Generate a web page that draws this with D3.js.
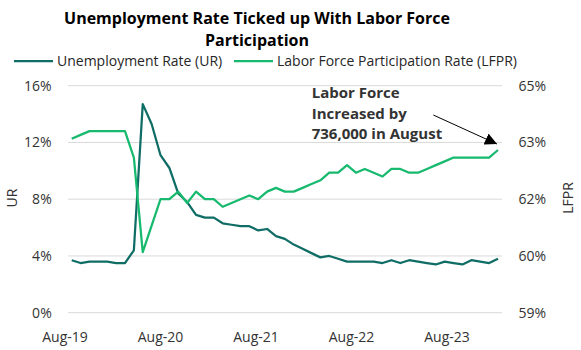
<!DOCTYPE html>
<html>
<head>
<meta charset="utf-8">
<script src="https://cdn.jsdelivr.net/npm/d3@7"></script>
<style>
  body { margin: 0; background: #fff; }
  svg { display: block; font-family: "Open Sans", sans-serif; }
</style>
</head>
<body>
<div id="chart"></div>
<script>
// Monthly data, Aug-19 .. Aug-23
const months = d3.timeMonths(new Date(2019, 7, 1), new Date(2023, 8, 1));

const unemploymentRate = [
    3.7, 3.5, 3.6, 3.6, 3.6, 3.5, 3.5, 4.4, 14.7, 13.3, 11.1, 10.2,
    8.4, 7.8, 6.9, 6.7, 6.7, 6.3, 6.2, 6.1, 6.1, 5.8, 5.9, 5.4,
    5.2, 4.8, 4.5, 4.2, 3.9, 4.0, 3.8, 3.6, 3.6, 3.6, 3.6, 3.5,
    3.7, 3.5, 3.7, 3.6, 3.5, 3.4, 3.6, 3.5, 3.4, 3.7, 3.6, 3.5,
    3.8
];

const participationRate = [
    63.1, 63.2, 63.3, 63.3, 63.3, 63.3, 63.3, 62.6, 60.1, 60.8, 61.5, 61.5,
    61.7, 61.4, 61.7, 61.5, 61.5, 61.3, 61.4, 61.5, 61.6, 61.5, 61.7, 61.8,
    61.7, 61.7, 61.8, 61.9, 62.0, 62.2, 62.2, 62.4, 62.2, 62.3, 62.2, 62.1,
    62.3, 62.3, 62.2, 62.2, 62.3, 62.4, 62.5, 62.6, 62.6, 62.6, 62.6, 62.6,
    62.8
];

const xLabels = ["Aug-19", "Aug-20", "Aug-21", "Aug-22", "Aug-23"];
const leftTicks = [0, 4, 8, 12, 16];
const rightTicks = [58.5, 60, 61.5, 63, 64.5];
const rightTickLabels = ["59%", "60%", "62%", "63%", "65%"];

const titleLines = ["Unemployment Rate Ticked up With Labor Force", "Participation"];
const noteLines = ["Labor Force", "Increased by", "736,000 in August"];

const series = [
    { name: "Unemployment Rate (UR)", values: unemploymentRate, color: "#0f6d66", axis: "left" },
    { name: "Labor Force Participation Rate (LFPR)", values: participationRate, color: "#17b96e", axis: "right" },
];

// Dimensions
const width = 581;
const height = 350;
const plotLeft = 68;
const plotRight = 502;
const plotTop = 85.7;
const plotBottom = 312.7;
const textColor = "#333";

const svg = d3.select("#chart")
    .append("svg")
    .attr("width", width)
    .attr("height", height);

// Scales
const x = d3.scalePoint()
    .domain(months)
    .range([71.7, 498]);

const xLabel = d3.scalePoint()
    .domain(xLabels)
    .range([64.5, 446.5]);

const yLeft = d3.scaleLinear()
    .domain([0, 16])
    .range([plotBottom, plotTop]);

const yRight = d3.scaleLinear()
    .domain([58.5, 64.5])
    .range([plotBottom, plotTop]);

// Gridlines
svg.append("g")
    .selectAll("line")
    .data(leftTicks)
    .join("line")
    .attr("x1", plotLeft)
    .attr("x2", plotRight)
    .attr("y1", (d) => yLeft(d))
    .attr("y2", (d) => yLeft(d))
    .attr("stroke", "#d9d9d9")
    .attr("stroke-width", 1);

// Axes
const styleAxis = (g) => {
    g.select(".domain").remove();
    g.selectAll(".tick line").remove();
    g.selectAll("text")
        .attr("fill", textColor)
        .style("font-size", "14px")
        .style("font-family", "Open Sans");
};

svg.append("g")
    .attr("transform", `translate(54.7,0)`)
    .call(d3.axisLeft(yLeft).tickValues(leftTicks).tickSize(0).tickPadding(3).tickFormat((d) => d + "%"))
    .call(styleAxis);

svg.append("g")
    .attr("transform", `translate(515.5,0)`)
    .call(d3.axisRight(yRight).tickValues(rightTicks).tickSize(0).tickPadding(3)
        .tickFormat((d, i) => rightTickLabels[i]))
    .call(styleAxis);

svg.append("g")
    .attr("transform", `translate(0,${plotBottom})`)
    .call(d3.axisBottom(xLabel).tickSize(0).tickPadding(19))
    .call(styleAxis);

// Axis titles
svg.append("text")
    .attr("transform", `translate(16.7,198) rotate(-90)`)
    .attr("text-anchor", "middle")
    .attr("fill", textColor)
    .style("font-size", "14px")
    .text("UR");

svg.append("text")
    .attr("transform", `translate(573.3,198) rotate(-90)`)
    .attr("text-anchor", "middle")
    .attr("fill", textColor)
    .style("font-size", "14px")
    .text("LFPR");

// Lines
const line = (scale) => d3.line()
    .x((d, i) => x(months[i]))
    .y((d) => scale(d));

svg.append("g")
    .attr("fill", "none")
    .attr("stroke-width", 2.25)
    .attr("stroke-linejoin", "round")
    .selectAll("path")
    .data(series)
    .join("path")
    .attr("stroke", (d) => d.color)
    .attr("d", (d) => line(d.axis === "left" ? yLeft : yRight)(d.values));

// Title
svg.append("g")
    .selectAll("text")
    .data(titleLines)
    .join("text")
    .attr("x", 257)
    .attr("y", (d, i) => 24 + i * 21.5)
    .attr("text-anchor", "middle")
    .attr("fill", "#000")
    .style("font-size", "16px")
    .style("font-weight", "bold")
    .text((d) => d);

// Legend
const legendX = [14, 234];
const legend = svg.append("g")
    .selectAll("g")
    .data(series)
    .join("g")
    .attr("transform", (d, i) => `translate(${legendX[i]},61)`);

legend.append("line")
    .attr("x2", 39)
    .attr("stroke", (d) => d.color)
    .attr("stroke-width", 2.25);

legend.append("text")
    .attr("x", 43)
    .attr("dy", "0.35em")
    .attr("fill", "#262626")
    .style("font-size", "14px")
    .text((d) => d.name);

// Annotation
svg.append("g")
    .selectAll("text")
    .data(noteLines)
    .join("text")
    .attr("x", 311.7)
    .attr("y", (d, i) => 97.8 + i * 20.7)
    .attr("fill", "#333")
    .style("font-size", "15px")
    .style("font-weight", "bold")
    .text((d) => d);

svg.append("defs")
    .append("marker")
    .attr("id", "arrowHead")
    .attr("viewBox", "0 -6 12 12")
    .attr("refX", 12)
    .attr("refY", 0)
    .attr("markerUnits", "userSpaceOnUse")
    .attr("markerWidth", 12)
    .attr("markerHeight", 12)
    .attr("orient", "auto")
    .append("path")
    .attr("d", "M0,-6L12,0L0,6Z")
    .attr("fill", "#000");

const lastMonth = months[months.length - 1];
const lastLfpr = participationRate[participationRate.length - 1];

svg.append("line")
    .attr("x1", 433.3)
    .attr("y1", 115)
    .attr("x2", x(lastMonth) - 1)
    .attr("y2", yRight(lastLfpr) - 6)
    .attr("stroke", "#000")
    .attr("stroke-width", 1)
    .attr("marker-end", "url(#arrowHead)");
</script>
</body>
</html>
